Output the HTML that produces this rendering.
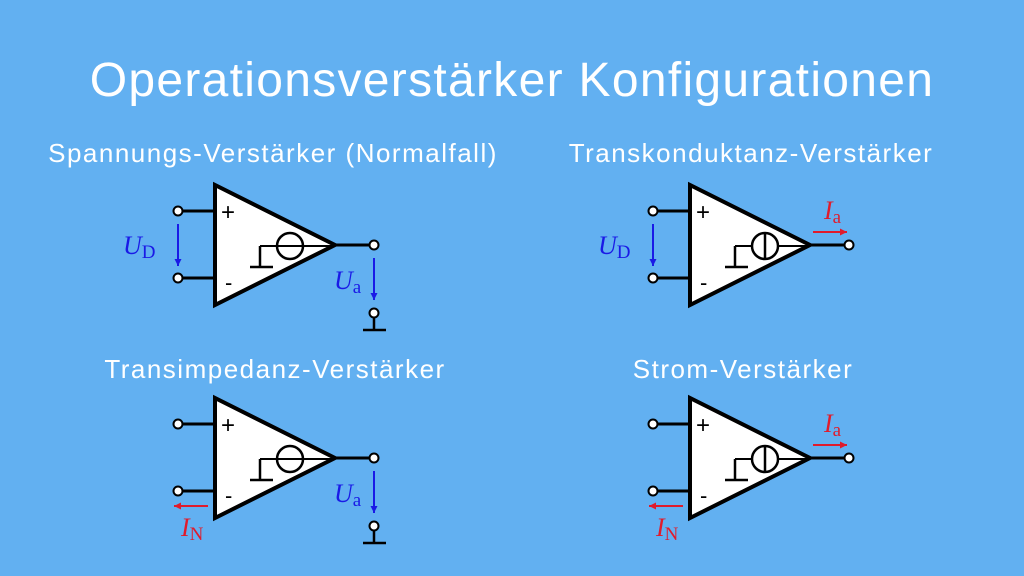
<!DOCTYPE html>
<html><head><meta charset="utf-8"><style>
html,body{margin:0;padding:0;}
body{width:1024px;height:576px;background:#62b0f1;overflow:hidden;font-family:"Liberation Sans",sans-serif;}
svg{position:absolute;left:0;top:0;}
.sub{font-size:26px;letter-spacing:1.5px;}
</style></head><body>
<svg id="s" width="1024" height="576" xmlns="http://www.w3.org/2000/svg">
<text x="512" y="96" text-anchor="middle" fill="#fff" font-size="48" letter-spacing="1.3" font-family="Liberation Sans, sans-serif">Operationsverstärker Konfigurationen</text>
<text class="sub" x="273" y="162" text-anchor="middle" fill="#fff">Spannungs-Verstärker (Normalfall)</text>
<text class="sub" x="751" y="162" text-anchor="middle" fill="#fff">Transkonduktanz-Verstärker</text>
<text class="sub" x="275" y="378" text-anchor="middle" fill="#fff">Transimpedanz-Verstärker</text>
<text class="sub" x="743" y="378" text-anchor="middle" fill="#fff">Strom-Verstärker</text>
</svg>
<script>
const NS='http://www.w3.org/2000/svg';
const s=document.getElementById('s');
function el(p,tag,a){const e=document.createElementNS(NS,tag);for(const k in a)e.setAttribute(k,a[k]);p.appendChild(e);return e;}
function opamp(dx,dy,name,currentOut,voltIn,voltOut){
  const g=el(s,'g',{transform:`translate(${dx},${dy})`});
  
  
  const st={stroke:'#000','stroke-width':3,fill:'none'};
  el(g,'line',Object.assign({x1:181,y1:211,x2:215,y2:211},st));
  el(g,'line',Object.assign({x1:181,y1:278,x2:215,y2:278},st));
  el(g,'line',Object.assign({x1:335,y1:245,x2:371,y2:245},st));
  el(g,'polygon',{points:'215,185 215,305 335,245',fill:'#fff',stroke:'#000','stroke-width':4,'stroke-linejoin':'miter'});
  el(g,'text',{x:221,y:220,'font-size':24,fill:'#000'}).textContent='+';
  el(g,'text',{x:225,y:290,'font-size':22,fill:'#000'}).textContent='-';
  el(g,'line',{x1:260,y1:246,x2:333,y2:246,stroke:'#000','stroke-width':2});
  el(g,'line',{x1:260,y1:246,x2:260,y2:267,stroke:'#000','stroke-width':2.5});
  el(g,'line',{x1:250,y1:267,x2:273,y2:267,stroke:'#000','stroke-width':2.5});
  el(g,'circle',{cx:290,cy:246,r:13,fill:'#fff',stroke:'#000','stroke-width':2.5});
  if(currentOut) el(g,'line',{x1:290,y1:233,x2:290,y2:259,stroke:'#000','stroke-width':2.5});
  else el(g,'line',{x1:277,y1:246,x2:303,y2:246,stroke:'#000','stroke-width':2});
  for(const [cx,cy] of [[178,211],[178,278],[374,245]]) el(g,'circle',{cx,cy,r:4.5,fill:'#fff',stroke:'#000','stroke-width':2});
  const blue='#1a1ae6';
  function arrow(x1,y1,x2,y2,c){el(g,'line',{x1,y1,x2,y2,stroke:c,'stroke-width':2});const a=Math.atan2(y2-y1,x2-x1);const L=7,W=3.5;
    const p=[[x2,y2],[x2-L*Math.cos(a)+W*Math.sin(a),y2-L*Math.sin(a)-W*Math.cos(a)],[x2-L*Math.cos(a)-W*Math.sin(a),y2-L*Math.sin(a)+W*Math.cos(a)]];
    el(g,'polygon',{points:p.map(q=>q.join(',')).join(' '),fill:c});}
  function lab(x,y,main,sub,c){const t=el(g,'text',{x,y,fill:c,'font-family':'Liberation Serif, serif','font-size':26});
    const a=el(t,'tspan',{'font-style':'italic'});a.textContent=main;const b=el(t,'tspan',{'font-size':19,dy:4});b.textContent=sub;}
  if(voltIn){arrow(178,224,178,266,blue);lab(123,254,'U','D',blue);}
  if(voltOut){arrow(374,258,374,300,blue);lab(334,289,'U','a',blue);
    el(g,'circle',{cx:374,cy:313,r:4.5,fill:'#fff',stroke:'#000','stroke-width':2});
    el(g,'line',{x1:374,y1:318,x2:374,y2:330,stroke:'#000','stroke-width':2.5});
    el(g,'line',{x1:363,y1:330,x2:386,y2:330,stroke:'#000','stroke-width':2.5});}
  return g;
}
const g1=opamp(0,0,'spannungs-verstaerker-circuit',false,true,true);
const g2=opamp(475,0,'transkonduktanz-verstaerker-circuit',true,true,false);
const g3=opamp(0,213,'transimpedanz-verstaerker-circuit',false,false,true);
const g4=opamp(475,213,'strom-verstaerker-circuit',true,false,false);
function extra(g,ia,inn){
  const red='#e01b2c';
  function arrow(x1,y1,x2,y2){el(g,'line',{x1,y1,x2,y2,stroke:red,'stroke-width':2});const d=x2>x1?1:-1;
    el(g,'polygon',{points:`${x2},${y2} ${x2-7*d},${y2-3.5} ${x2-7*d},${y2+3.5}`,fill:red});}
  function lab(x,y,sub){const t=el(g,'text',{x,y,fill:red,'font-family':'Liberation Serif, serif','font-size':26});
    const a=el(t,'tspan',{'font-style':'italic'});a.textContent='I';const b=el(t,'tspan',{'font-size':19,dy:4});b.textContent=sub;}
  if(ia){arrow(338,232,372,232);lab(349,219,'a');}
  if(inn){arrow(208,293,174,293);lab(181,323,'N');}
}
extra(g2,true,false);extra(g3,false,true);extra(g4,true,true);
</script>
</body></html>
